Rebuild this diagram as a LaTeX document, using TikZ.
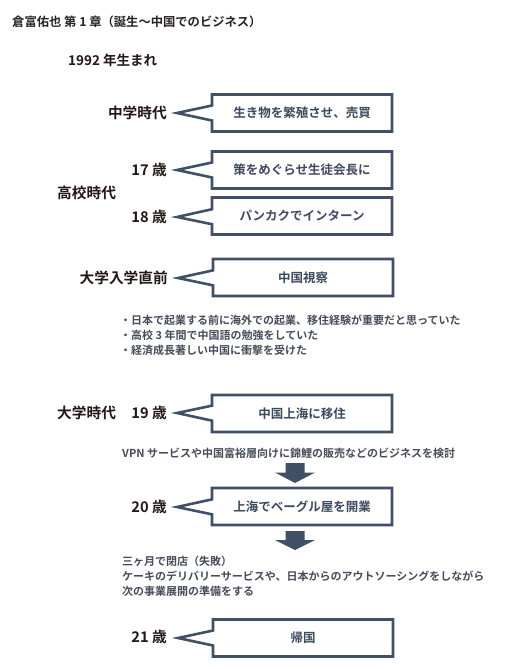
\documentclass[tikz,border=0pt]{standalone}
\usepackage{fontspec}
\setmainfont{Noto Sans CJK JP}[BoldFont={Noto Sans CJK JP Bold}]
\usetikzlibrary{shapes.callouts, positioning}

\definecolor{boxline}{RGB}{64,80,102}
\definecolor{boxtext}{RGB}{62,74,94}
\definecolor{notetext}{RGB}{70,76,90}
\definecolor{labeltext}{RGB}{35,24,21}

\begin{document}
\begin{tikzpicture}[x=1pt, y=-1pt,
		label/.style={font=\fontsize{14.7}{16}\selectfont\bfseries, text=labeltext, inner sep=0pt},
		event/.style={rectangle callout, draw=boxline, line width=2.6pt, fill=white, minimum width=180pt, minimum height=37pt, inner sep=0pt, callout pointer width=15pt, font=\fontsize{12.5}{14}\selectfont\bfseries, text=boxtext},
		note/.style={align=left, inner sep=0pt, font=\fontsize{11}{14.8}\selectfont\bfseries, text=notetext},
		down/.style={fill=boxline}]
			
			\useasboundingbox (0,0) rectangle (509,669);
			
			% Title
			\node[anchor=west, inner sep=0pt, font=\fontsize{12.3}{14}\selectfont\bfseries, text=labeltext!80!boxline] (title) at (12, 22) {倉富佑也 第 1 章（誕生〜中国でのビジネス）};
			\node[label, anchor=west, font=\fontsize{13.5}{16}\selectfont\bfseries] (born) at (68, 60) {1992 年生まれ};
			
			% Junior high
			\node[label, anchor=east] (jhs) at (167, 113) {中学時代};
			\node[event, callout absolute pointer={(177, 113)}] (e1) at (302, 113) {生き物を繁殖させ、売買};
			
			% High school
			\node[label, anchor=west] (hs) at (57, 193) {高校時代};
			\node[label, anchor=east] (a17) at (167, 170) {17 歳};
			\node[event, callout absolute pointer={(177, 170)}] (e2) at (302, 170) {策をめぐらせ生徒会長に};
			\node[label, anchor=east] (a18) at (167, 217) {18 歳};
			\node[event, callout absolute pointer={(177, 217)}] (e3) at (302, 216) {パンカクでインターン};
			
			% Before university
			\node[label, anchor=east] (pre) at (168, 278) {大学入学直前};
			\node[event, callout absolute pointer={(178, 278)}] (e4) at (303, 277.5) {中国視察};
			\node[note, anchor=north west] (n1) at (120, 315) {・日本で起業する前に海外での起業、移住経験が重要だと思っていた\\・高校 3 年間で中国語の勉強をしていた\\・経済成長著しい中国に衝撃を受けた};
			
			% University
			\node[label, anchor=west] (uni) at (57, 413) {大学時代};
			\node[label, anchor=east] (a19) at (167, 413) {19 歳};
			\node[event, callout absolute pointer={(177, 413)}] (e5) at (302, 413.5) {中国上海に移住};
			\node[note, anchor=west] (n2) at (122, 453) {VPN サービスや中国富裕層向けに錦鯉の販売などのビジネスを検討};
			\coordinate (d1) at (295, 463);
			\fill[down] (d1) ++(-9.5,0) -- ++(19,0) -- ++(0,9.5) -- ++(10.5,0) -- ++(-20,10.5) -- ++(-20,-10.5) -- ++(10.5,0) -- cycle;
			
			\node[label, anchor=east] (a20) at (167, 507) {20 歳};
			\node[event, callout absolute pointer={(177, 507)}] (e6) at (302, 506.5) {上海でベーグル屋を開業};
			\coordinate (d2) at (295, 531);
			\fill[down] (d2) ++(-9.5,0) -- ++(19,0) -- ++(0,9) -- ++(10.5,0) -- ++(-20,10) -- ++(-20,-10) -- ++(10.5,0) -- cycle;
			\node[note, anchor=north west] (n3) at (122, 556) {三ヶ月で閉店（失敗）\\ケーキのデリバリーサービスや、日本からのアウトソーシングをしながら\\次の事業展開の準備をする};
			
			% Return
			\node[label, anchor=east] (a21) at (167, 637) {21 歳};
			\node[event, callout absolute pointer={(178, 638)}] (e7) at (303, 638) {帰国};
			
		\end{tikzpicture}
\end{document}
